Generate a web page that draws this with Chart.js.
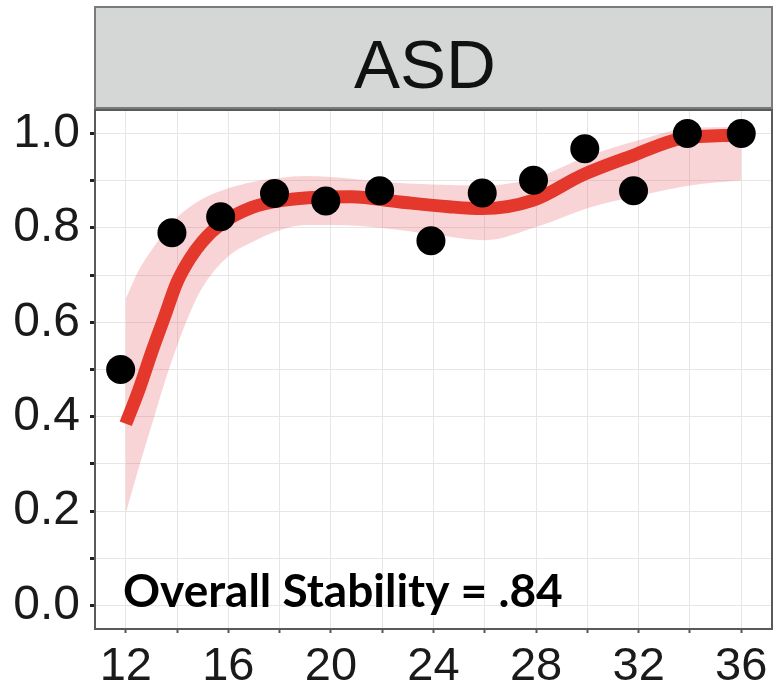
<!DOCTYPE html>
<html>
<head>
<meta charset="utf-8">
<script src="https://cdn.jsdelivr.net/npm/chart.js@4/dist/chart.umd.min.js"></script>
<style>
  html, body { margin: 0; padding: 0; background: #ffffff; }
  #wrap { width: 773px; height: 687px; }
</style>
</head>
<body>
<div id="wrap"><canvas id="c" width="773" height="687"></canvas></div>
<script>
// ---- data ----
const panelTitle = 'ASD';
const annotation = 'Overall Stability = .84';

const ages = [11.8, 13.8, 15.7, 17.8, 19.8, 21.9, 23.9, 25.9, 27.9, 29.9, 31.8, 33.9, 36.0];
const stability = [0.50, 0.79, 0.824, 0.873, 0.857, 0.879, 0.773, 0.874, 0.901, 0.968, 0.879, 1.0, 1.0];

const fitAges = [12, 12.5, 13, 13.5, 14, 14.5, 15, 15.7, 16.9, 18.2, 19.5, 20.8, 22.7, 24.6, 25.9, 27.9, 29.8, 31.8, 33.7, 36];
const fitValues = [0.385, 0.455, 0.535, 0.61, 0.685, 0.735, 0.772, 0.808, 0.843, 0.859, 0.865, 0.866, 0.855, 0.845, 0.841, 0.859, 0.912, 0.954, 0.99, 0.997];

const bandAges = [12, 12.5, 13, 13.5, 14, 14.5, 15, 16, 17, 18, 19, 20, 22, 24, 26, 28, 30, 32, 34, 36];
const bandUpper = [0.65, 0.71, 0.753, 0.79, 0.822, 0.845, 0.862, 0.884, 0.898, 0.906, 0.91, 0.908, 0.898, 0.892, 0.89, 0.907, 0.952, 0.986, 1.012, 1.014];
const bandLower = [0.195, 0.29, 0.38, 0.47, 0.55, 0.62, 0.675, 0.74, 0.772, 0.795, 0.806, 0.806, 0.80, 0.786, 0.774, 0.802, 0.842, 0.868, 0.89, 0.901];

const xTicks = [12, 14, 16, 18, 20, 22, 24, 26, 28, 30, 32, 34, 36];
const xTickLabels = ['12', '', '16', '', '20', '', '24', '', '28', '', '32', '', '36'];
const yTicks = [0, 0.1, 0.2, 0.3, 0.4, 0.5, 0.6, 0.7, 0.8, 0.9, 1.0];
const yTickLabels = ['0.0', '', '0.2', '', '0.4', '', '0.6', '', '0.8', '', '1.0'];

const pair = (xs, ys) => xs.map((x, i) => ({ x: x, y: ys[i] }));

const stripPlugin = {
  id: 'strip',
  afterDraw(chart) {
    const ctx = chart.ctx, a = chart.chartArea;
    ctx.save();
    // panel border
    ctx.strokeStyle = '#5a5a5a';
    ctx.lineWidth = 2;
    ctx.strokeRect(a.left, a.top, a.right - a.left, a.bottom - a.top);
    // strip
    const top = 7, bottom = a.top - 2;
    ctx.fillStyle = '#d5d7d7';
    ctx.fillRect(a.left, top, a.right - a.left, bottom - top);
    ctx.strokeStyle = '#7a7a7a';
    ctx.lineWidth = 2;
    ctx.strokeRect(a.left, top, a.right - a.left, bottom - top);
    ctx.fillStyle = '#111111';
    ctx.font = '69px "Liberation Sans", Arial, sans-serif';
    ctx.textAlign = 'center';
    ctx.textBaseline = 'alphabetic';
    ctx.fillText(panelTitle, 425, 88);
    // annotation
    ctx.font = 'bold 46px Lato, "Open Sans", sans-serif';
    ctx.textAlign = 'left';
    ctx.fillStyle = '#000000';
    ctx.fillText(annotation, 123, 607);
    ctx.restore();
  }
};

new Chart(document.getElementById('c'), {
  type: 'line',
  data: {
    datasets: [
      {
        label: 'points',
        type: 'scatter',
        data: pair(ages, stability),
        pointRadius: 14.5,
        pointBackgroundColor: '#000000',
        pointBorderWidth: 0,
        showLine: false,
        order: 0
      },
      {
        label: 'fit',
        data: pair(fitAges, fitValues),
        borderColor: '#e3382b',
        borderWidth: 13,
        borderCapStyle: 'butt',
        pointRadius: 0,
        cubicInterpolationMode: 'monotone',
        fill: false,
        order: 1
      },
      {
        label: 'upper',
        data: pair(bandAges, bandUpper),
        borderWidth: 0,
        borderColor: 'rgba(0,0,0,0)',
        pointRadius: 0,
        cubicInterpolationMode: 'monotone',
        backgroundColor: 'rgba(230,90,100,0.26)',
        fill: '+1',
        order: 2
      },
      {
        label: 'lower',
        data: pair(bandAges, bandLower),
        borderWidth: 0,
        borderColor: 'rgba(0,0,0,0)',
        pointRadius: 0,
        cubicInterpolationMode: 'monotone',
        fill: false,
        order: 3
      }
    ]
  },
  options: {
    responsive: false,
    animation: false,
    events: [],
    layout: { autoPadding: false, padding: { top: 110, right: 1, left: 0, bottom: 0 } },
    plugins: { legend: { display: false }, tooltip: { enabled: false }, title: { display: false } },
    scales: {
      x: {
        type: 'linear',
        min: 10.8,
        max: 37.2,
        afterBuildTicks(scale) { scale.ticks = xTicks.map(v => ({ value: v })); },
        afterFit(scale) { scale.height = 58; scale.paddingLeft = 0; scale.paddingRight = 0; },
        grid: { color: '#e6e6e6', lineWidth: 1, drawTicks: true, tickLength: 4, tickColor: '#555555', tickWidth: 2 },
        border: { display: true, color: '#5a5a5a', width: 2 },
        ticks: {
          autoSkip: false,
          maxRotation: 0,
          padding: 6,
          color: '#1a1a1a',
          font: { family: '"Liberation Sans", Arial, sans-serif', size: 47 },
          callback: (v, i) => xTickLabels[i]
        }
      },
      y: {
        type: 'linear',
        min: -0.05,
        max: 1.05,
        afterBuildTicks(scale) { scale.ticks = yTicks.map(v => ({ value: v })); },
        afterFit(scale) { scale.width = 95; scale.paddingTop = 0; scale.paddingBottom = 0; },
        grid: { color: '#e6e6e6', lineWidth: 1, drawTicks: true, tickLength: 5, tickColor: '#222222', tickWidth: 3 },
        border: { display: true, color: '#5a5a5a', width: 2 },
        ticks: {
          autoSkip: false,
          padding: 10,
          color: '#1a1a1a',
          font: { family: '"Liberation Sans", Arial, sans-serif', size: 48 },
          callback: (v, i) => yTickLabels[i]
        }
      }
    }
  },
  plugins: [stripPlugin]
});
</script>
</body>
</html>
